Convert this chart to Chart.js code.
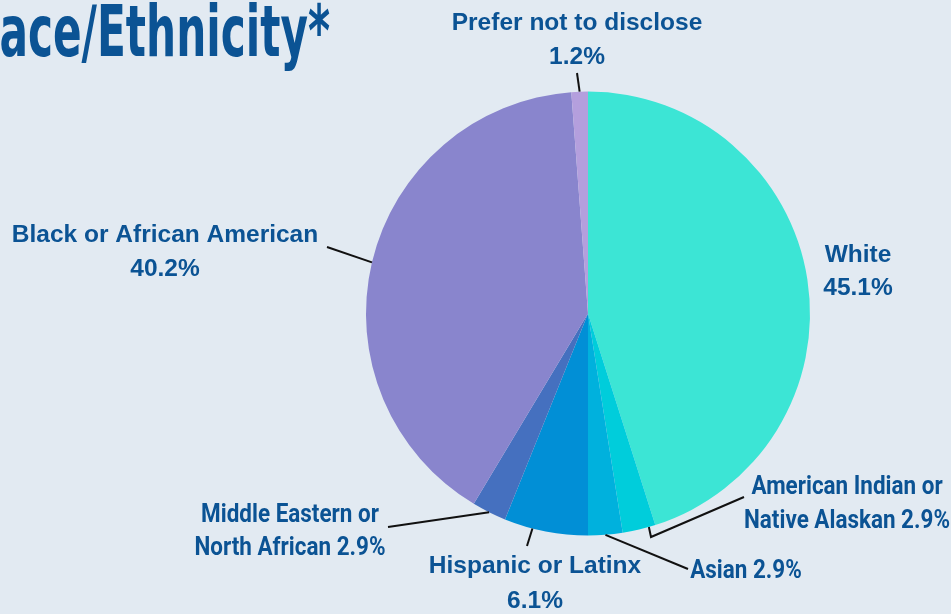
<!DOCTYPE html>
<html>
<head>
<meta charset="utf-8">
<script src="https://cdn.jsdelivr.net/npm/chart.js@4.4.1/dist/chart.umd.min.js"></script>
<style>
    html, body { margin: 0; padding: 0; background: #e2eaf2; }
    #wrap { width: 951px; height: 614px; }
</style>
</head>
<body>
<div id="wrap"><canvas id="chart" width="951" height="614"></canvas></div>
<script>
const categories = ['White', 'American Indian or Native Alaskan', 'Asian', 'Hispanic or Latinx',
    'Middle Eastern or North African', 'Black or African American', 'Prefer not to disclose'];
const shares = [45.1, 2.4, 2.5, 6.1, 2.5, 40.2, 1.2];
const shareLabels = ['45.1%', '2.9%', '2.9%', '6.1%', '2.9%', '40.2%', '1.2%'];
const sliceColors = ['#3ce5d5', '#00cddb', '#00b1dd', '#018fd6', '#4570bf', '#8985cd', '#b49fdd'];
const titleText = 'Race/Ethnicity*';

const textColor = '#0b5394';

// where each label sits; wrap = words on the first line, at = where on the slice the leader starts
const labelLayout = [
    { x: 858, y: [262, 295], wrap: 1, narrow: false, leader: null },
    { x: 847, y: [494, 528], wrap: 3, narrow: true, at: 0.2, leader: [[651, 537], [744, 497]] },
    { x: 746, y: [578], wrap: 9, narrow: true, leader: [[688, 569]] },
    { x: 535, y: [573, 608], wrap: 3, narrow: false, at: 0.66, leader: [[527, 546]] },
    { x: 290, y: [522, 555], wrap: 3, narrow: true, leader: [[388, 527]] },
    { x: 165, y: [242, 276], wrap: 4, narrow: false, leader: [[327, 247]] },
    { x: 577, y: [30, 64], wrap: 4, narrow: false, leader: [[577, 73]] },
];

const wideFont = 'bold 24.5px "Liberation Sans", Arial, sans-serif';
const narrowFont = 'bold 26px Roboto, "Noto Sans", sans-serif';

function drawNarrow(ctx, text, x, y, scale) {
    ctx.save();
    ctx.translate(x, y);
    ctx.scale(scale, 1);
    ctx.fillText(text, 0, 0);
    ctx.restore();
}

const labelsPlugin = {
    id: 'pieLabels',
    afterDraw(chart) {
        const ctx = chart.ctx;
        const arcs = chart.getDatasetMeta(0).data;

        ctx.save();

        // title, cut off at the left edge like the source
        ctx.fillStyle = textColor;
        ctx.font = 'bold 72px "DejaVu Sans Condensed", "DejaVu Sans", sans-serif';
        ctx.textBaseline = 'alphabetic';
        ctx.textAlign = 'left';
        const tail = titleText.slice(titleText.indexOf('/') + 1);
        const head = titleText.slice(0, titleText.indexOf('/') + 1);
        const ts = 233 / ctx.measureText(tail).width;
        ctx.save();
        ctx.translate(97, 56);
        ctx.scale(ts, 1);
        ctx.fillText(tail, 0, 0);
        ctx.textAlign = 'right';
        ctx.fillText(head, 0, 0);
        ctx.restore();

        // leader lines
        ctx.strokeStyle = '#111';
        ctx.lineWidth = 2;
        ctx.lineJoin = 'miter';
        labelLayout.forEach((l, i) => {
            if (!l.leader) return;
            const arc = arcs[i];
            const at = l.at === undefined ? 0.5 : l.at;
            const a = arc.startAngle + (arc.endAngle - arc.startAngle) * at;
            ctx.beginPath();
            ctx.moveTo(arc.x + Math.cos(a) * arc.outerRadius, arc.y + Math.sin(a) * arc.outerRadius);
            l.leader.forEach(p => ctx.lineTo(p[0], p[1]));
            ctx.stroke();
        });

        // label text
        ctx.font = narrowFont;
        const ns = 206 / ctx.measureText('Native Alaskan 2.9%').width;
        ctx.textAlign = 'center';
        ctx.fillStyle = textColor;
        labelLayout.forEach((l, i) => {
            const words = (categories[i] + ' ' + shareLabels[i]).split(' ');
            const lines = [words.slice(0, l.wrap).join(' '), words.slice(l.wrap).join(' ')].filter(s => s);
            ctx.font = l.narrow ? narrowFont : wideFont;
            lines.forEach((t, k) => {
                if (l.narrow) {
                    drawNarrow(ctx, t, l.x, l.y[k], ns);
                } else {
                    ctx.fillText(t, l.x, l.y[k]);
                }
            });
        });

        ctx.restore();
    },
};

new Chart(document.getElementById('chart').getContext('2d'), {
    type: 'pie',
    data: {
        labels: categories,
        datasets: [
            {
                data: shares,
                backgroundColor: sliceColors,
                borderWidth: 0,
            },
        ],
    },
    options: {
        responsive: false,
        animation: false,
        layout: {
            padding: { left: 366, right: 141, top: 91, bottom: 78 },
        },
        plugins: {
            legend: { display: false },
            tooltip: { enabled: false },
        },
    },
    plugins: [labelsPlugin],
});
</script>
</body>
</html>
